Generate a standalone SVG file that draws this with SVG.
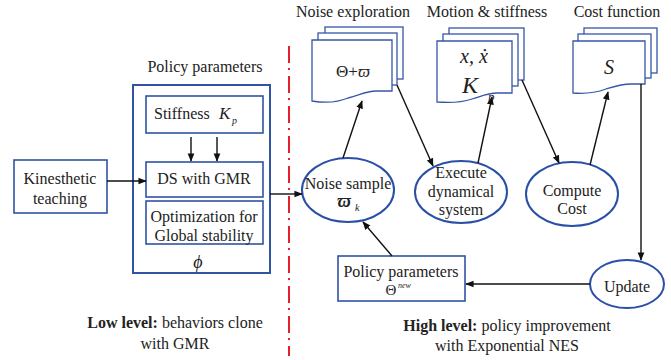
<svg xmlns="http://www.w3.org/2000/svg" width="671" height="360" viewBox="0 0 671 360" font-family="'Liberation Serif', 'DejaVu Serif', serif">
<style>
text{font-family:'Liberation Serif','DejaVu Serif',serif;fill:#222;}
.t{font-size:16px;text-anchor:middle;}
.box{fill:#fff;stroke:#2F54A3;stroke-width:1.6;}
.obox{fill:#fff;stroke:#2F54A3;stroke-width:2;}
.ell{fill:#fff;stroke:#2A4FA8;stroke-width:2;}
.doc{fill:#fff;stroke:#3556A8;stroke-width:1.3;}
.ln{stroke:#111;stroke-width:1.4;fill:none;}
.m{font-style:italic;}
</style>
<defs>
<marker id="ah" viewBox="0 0 10 10" refX="9" refY="5" markerWidth="6" markerHeight="6" orient="auto">
<path d="M0,1 L10,5 L0,9 Z" fill="#111"/>
</marker>
</defs>

<line x1="289" y1="46" x2="289" y2="356" stroke="#E3202B" stroke-width="2" stroke-dasharray="17 5 2 6"/>

<text class="t" x="353" y="17">Noise exploration</text>
<text class="t" x="487" y="17">Motion &amp; stiffness</text>
<text class="t" x="617" y="17">Cost function</text>
<text class="t" x="205" y="72">Policy parameters</text>

<g id="kinesthetic">
<rect class="box" x="14" y="160" width="93" height="53"/>
<text class="t" x="60" y="184">Kinesthetic</text>
<text class="t" x="60" y="204">teaching</text>
</g>

<g id="policy-box">
<rect class="obox" x="133" y="85" width="137" height="188"/>
<text x="198" y="268" class="m" style="font-size:18px;text-anchor:middle">ϕ</text>
</g>
<g id="stiffness">
<rect class="box" x="146" y="96" width="117" height="37"/>
<text x="154" y="119" style="font-size:16px">Stiffness</text>
<text x="219" y="119" class="m" style="font-size:17px">K</text>
<text x="232" y="124" class="m" style="font-size:10px">p</text>
</g>
<g id="ds-gmr">
<rect class="box" x="146" y="162" width="117" height="35"/>
<text class="t" x="204" y="184">DS with GMR</text>
</g>
<g id="optimization">
<rect class="box" x="146" y="201" width="117" height="43"/>
<text class="t" x="204" y="222">Optimization for</text>
<text class="t" x="204" y="241">Global stability</text>
</g>

<g id="noise-doc">
<rect class="doc" x="325" y="27" width="78" height="52"/>
<rect class="doc" x="318" y="33" width="79" height="52"/>
<path class="doc" d="M312,40 H392 V91 H376 C366,91 360,95 348,98 C336,103 324,103 312,101 Z"/>
<text x="353" y="77" style="font-size:17px;text-anchor:middle">Θ+<tspan class="m">ϖ</tspan></text>
</g>
<g id="motion-doc">
<rect class="doc" x="449" y="28" width="75" height="52"/>
<rect class="doc" x="443" y="34" width="75" height="52"/>
<path class="doc" d="M437,41 H512 V93 H497 C488,93 482,96 472,99 C460,103 449,103 437,102 Z"/>
<text x="474" y="63" class="m" style="font-size:20px;text-anchor:middle">x, ẋ</text>
<text x="462" y="93" class="m" style="font-size:24px">K</text>
<text x="488" y="101" class="m" style="font-size:13px">p</text>
</g>
<g id="cost-doc">
<rect class="doc" x="584" y="28" width="73" height="45"/>
<rect class="doc" x="578" y="34" width="73" height="44"/>
<path class="doc" d="M573,41 H645 V84 H631 C622,84 616,86 606,89 C595,93 584,94 573,93 Z"/>
<text x="609" y="74" class="m" style="font-size:20px;text-anchor:middle">S</text>
</g>

<g id="noise-sample">
<ellipse class="ell" cx="348" cy="190" rx="46" ry="32"/>
<text class="t" x="348" y="189">Noise sample</text>
<text x="344" y="207" class="m" style="font-size:18px;text-anchor:middle;font-weight:bold">ϖ</text>
<text x="355" y="211" class="m" style="font-size:10px">k</text>
</g>
<g id="execute">
<ellipse class="ell" cx="461" cy="192" rx="46" ry="31"/>
<text class="t" x="461" y="178">Execute</text>
<text class="t" x="461" y="197">dynamical</text>
<text class="t" x="461" y="215">system</text>
</g>
<g id="compute-cost">
<ellipse class="ell" cx="572" cy="194" rx="46" ry="32"/>
<text class="t" x="572" y="196">Compute</text>
<text class="t" x="572" y="214">Cost</text>
</g>
<g id="update">
<ellipse class="ell" cx="627" cy="284" rx="37" ry="24"/>
<text class="t" x="627" y="292">Update</text>
</g>
<g id="policy-new">
<rect class="box" x="338" y="256" width="127" height="45"/>
<text class="t" x="401" y="277">Policy parameters</text>
<text x="391" y="295" style="font-size:15px;text-anchor:middle">Θ</text>
<text x="398" y="288" class="m" style="font-size:8px">new</text>
</g>

<g id="connectors">
<line class="ln" x1="107" y1="181" x2="146" y2="181" marker-end="url(#ah)"/>
<line class="ln" x1="191" y1="137" x2="191" y2="161" marker-end="url(#ah)"/>
<line class="ln" x1="217" y1="137" x2="217" y2="161" marker-end="url(#ah)"/>
<line class="ln" x1="270" y1="194" x2="302" y2="194" marker-end="url(#ah)"/>
<line class="ln" x1="343" y1="158" x2="362" y2="101" marker-end="url(#ah)"/>
<line class="ln" x1="397" y1="85" x2="433" y2="166" marker-end="url(#ah)"/>
<line class="ln" x1="478" y1="163" x2="492" y2="97" marker-end="url(#ah)"/>
<line class="ln" x1="522" y1="80" x2="559" y2="163" marker-end="url(#ah)"/>
<line class="ln" x1="590" y1="165" x2="608" y2="92" marker-end="url(#ah)"/>
<line class="ln" x1="641" y1="84" x2="641" y2="260" marker-end="url(#ah)"/>
<line class="ln" x1="590" y1="284" x2="466" y2="284" marker-end="url(#ah)"/>
<line class="ln" x1="392" y1="256" x2="363" y2="222" marker-end="url(#ah)"/>
</g>

<text x="175" y="328" style="font-size:16px;text-anchor:middle"><tspan font-weight="bold">Low level:</tspan>  behaviors clone</text>
<text class="t" x="175" y="349">with GMR</text>
<text x="507" y="331" style="font-size:16px;text-anchor:middle"><tspan font-weight="bold">High level:</tspan> policy improvement</text>
<text class="t" x="507" y="351">with Exponential NES</text>
</svg>
